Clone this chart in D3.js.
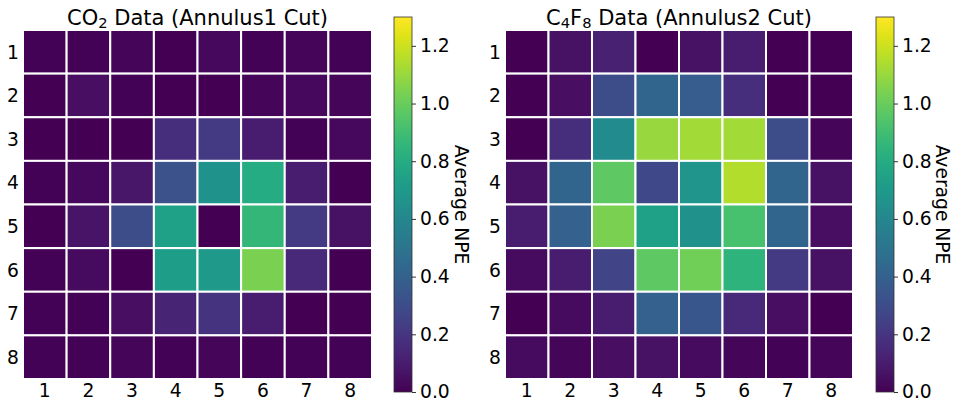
<!DOCTYPE html>
<html>
<head>
	<title>NPE Heatmaps</title>
	<script src="https://d3js.org/d3.v7.min.js"></script>
	<style>
	body { margin: 0; background: white; }
	text { font-family: "DejaVu Sans", sans-serif; fill: #000; }
	</style>
</head>
<body>
<script type="text/javascript">

// tick labels for rows / columns
const rows = [1, 2, 3, 4, 5, 6, 7, 8]
const cols = [1, 2, 3, 4, 5, 6, 7, 8]
const cbarTicks = [0.0, 0.2, 0.4, 0.6, 0.8, 1.0, 1.2]

// average NPE, row by row (row 1 at top)
const co2Values = [
	[0.01, 0.01, 0.02, 0.00, 0.03, 0.01, 0.02, 0.01],
	[0.00, 0.05, 0.01, 0.00, 0.00, 0.02, 0.03, 0.02],
	[0.00, 0.00, 0.00, 0.17, 0.22, 0.10, 0.01, 0.03],
	[0.01, 0.03, 0.08, 0.33, 0.66, 0.80, 0.10, 0.00],
	[0.00, 0.07, 0.30, 0.74, 0.00, 0.86, 0.22, 0.06],
	[0.01, 0.04, 0.00, 0.72, 0.70, 1.04, 0.15, 0.00],
	[0.01, 0.01, 0.05, 0.13, 0.19, 0.10, 0.00, 0.00],
	[0.01, 0.01, 0.02, 0.01, 0.02, 0.01, 0.01, 0.01]
]

const c4f8Values = [
	[0.00, 0.06, 0.12, 0.00, 0.06, 0.10, 0.00, 0.00],
	[0.00, 0.05, 0.30, 0.42, 0.38, 0.17, 0.00, 0.00],
	[0.00, 0.17, 0.62, 1.10, 1.12, 1.12, 0.30, 0.02],
	[0.06, 0.42, 0.98, 0.28, 0.68, 1.15, 0.42, 0.06],
	[0.10, 0.40, 1.04, 0.74, 0.65, 0.92, 0.42, 0.05],
	[0.04, 0.10, 0.26, 0.98, 1.02, 0.84, 0.22, 0.06],
	[0.00, 0.04, 0.10, 0.40, 0.35, 0.15, 0.05, 0.00],
	[0.04, 0.02, 0.05, 0.06, 0.04, 0.02, 0.01, 0.02]
]

const vmax = 1.3
const color = d3.scaleSequential(d3.interpolateViridis).domain([0, vmax])

const width = 957
const height = 403
const fs = 18.7

const svg = d3.select("body").append("svg")
		.attr("width", width)
		.attr("height", height)

const defs = svg.append("defs")
const grad = defs.append("linearGradient")
		.attr("id", "viridis")
		.attr("x1", 0).attr("y1", 1).attr("x2", 0).attr("y2", 0)
d3.range(0, 1.0001, 0.05).forEach(function(t){
	grad.append("stop")
		.attr("offset", t)
		.attr("stop-color", color(t * vmax))
})

// one heatmap + colorbar
function panel(values, cfg)
{
	const g = svg.append("g")

	const x = d3.scaleBand().domain(cols).range([cfg.x, cfg.x + cfg.w])
	const y = d3.scaleBand().domain(rows).range([cfg.y, cfg.y + cfg.h])

	const cells = []
	values.forEach(function(r, i){
		r.forEach(function(v, j){
			cells.push({row: rows[i], col: cols[j], v: v})
		})
	})

	g.selectAll("rect.cell")
		.data(cells)
		.enter()
		.append("rect")
		.attr("class", "cell")
		.attr("x", d => x(d.col))
		.attr("y", d => y(d.row))
		.attr("width", x.bandwidth())
		.attr("height", y.bandwidth())
		.attr("fill", d => color(d.v))
		.attr("stroke", "white")
		.attr("stroke-width", 2)

	// column labels
	g.selectAll("text.xt")
		.data(cols)
		.enter()
		.append("text")
		.attr("class", "xt")
		.attr("x", d => x(d) + x.bandwidth() / 2)
		.attr("y", cfg.y + cfg.h + 18)
		.attr("text-anchor", "middle")
		.attr("font-size", fs)
		.text(d => d)

	// row labels
	g.selectAll("text.yt")
		.data(rows)
		.enter()
		.append("text")
		.attr("class", "yt")
		.attr("x", cfg.x - 4)
		.attr("y", d => y(d) + y.bandwidth() / 2)
		.attr("dy", "0.36em")
		.attr("text-anchor", "end")
		.attr("font-size", fs)
		.text(d => d)

	// title
	const title = g.append("text")
		.attr("x", cfg.x + cfg.w / 2)
		.attr("y", 25)
		.attr("text-anchor", "middle")
		.attr("font-size", 21)
	cfg.title.forEach(function(p){
		const t = title.append("tspan").text(p[0])
		if(p[1]) t.attr("baseline-shift", "-22%").attr("font-size", 14.7)
	})

	// colorbar
	const cy = d3.scaleLinear().domain([0, vmax]).range([cfg.cbBottom, cfg.cbTop])
	g.append("rect")
		.attr("x", cfg.cbX)
		.attr("y", cfg.cbTop)
		.attr("width", cfg.cbW)
		.attr("height", cfg.cbBottom - cfg.cbTop)
		.attr("fill", "url(#viridis)")
		.attr("stroke", "#333")
		.attr("stroke-width", 0.8)

	const axis = g.append("g")
		.attr("transform", "translate(" + (cfg.cbX + cfg.cbW) + ",0)")
		.call(d3.axisRight(cy).tickValues(cbarTicks).tickFormat(d3.format(".1f")).tickSize(4).tickPadding(4))
	axis.select(".domain").remove()
	axis.selectAll("text").attr("font-size", fs).attr("font-family", "DejaVu Sans")
	axis.selectAll("line").attr("stroke", "#000").attr("stroke-width", 0.8)

	g.append("text")
		.attr("transform", "translate(" + cfg.labelX + "," + ((cfg.cbTop + cfg.cbBottom) / 2) + ") rotate(90)")
		.attr("text-anchor", "middle")
		.attr("font-size", fs)
		.text("Average NPE")
}

panel(co2Values, {
	x: 23, y: 30, w: 349, h: 349,
	cbX: 394, cbW: 18, cbTop: 17, cbBottom: 392, labelX: 455,
	title: [["CO"], ["2", true], [" Data (Annulus1 Cut)"]]
})

panel(c4f8Values, {
	x: 505, y: 30, w: 348, h: 349,
	cbX: 876, cbW: 18, cbTop: 17, cbBottom: 392, labelX: 936,
	title: [["C"], ["4", true], ["F"], ["8", true], [" Data (Annulus2 Cut)"]]
})

</script>
</body>
</html>
